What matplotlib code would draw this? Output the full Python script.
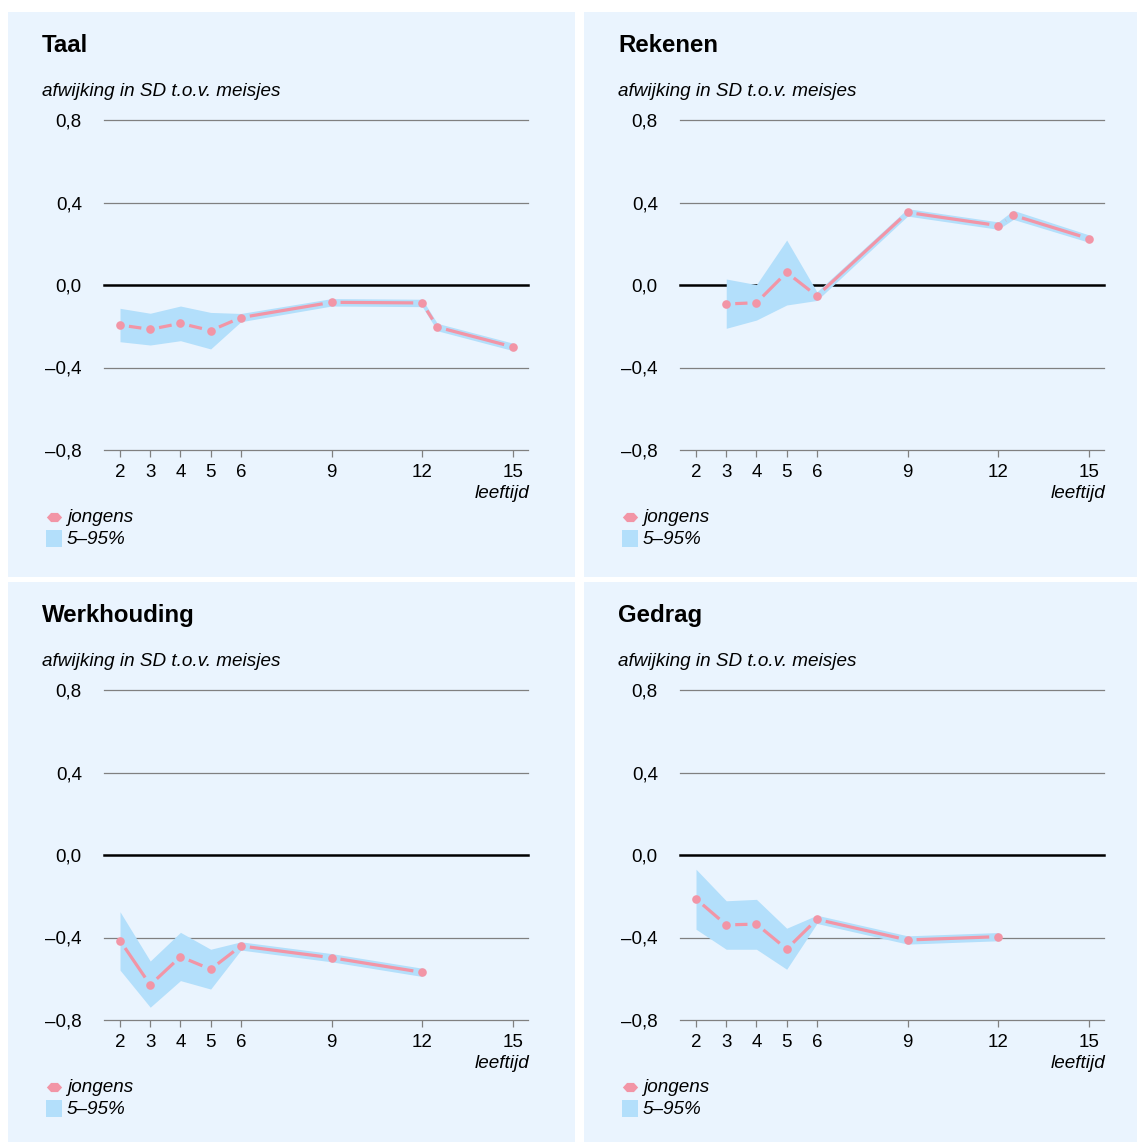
import numpy as np
import matplotlib
matplotlib.use("Agg")
from matplotlib import pyplot as plt
from matplotlib.patches import Rectangle

plt.rcParams['font.family'] = ['Liberation Sans', 'DejaVu Sans']

# leeftijden en waarden (afwijking in SD t.o.v. meisjes)
taal_age = [2, 3, 4, 5, 6, 9, 12, 12.5, 15]
taal_val = [-0.194, -0.215, -0.186, -0.221, -0.158, -0.084, -0.087, -0.204, -0.300]
taal_lo = [-0.275, -0.291, -0.270, -0.310, -0.178, -0.102, -0.105, -0.222, -0.318]
taal_hi = [-0.113, -0.137, -0.102, -0.133, -0.138, -0.066, -0.069, -0.186, -0.282]

rek_age = [3, 4, 5, 6, 9, 12, 12.5, 15]
rek_val = [-0.092, -0.086, 0.061, -0.053, 0.352, 0.288, 0.338, 0.225]
rek_lo = [-0.210, -0.170, -0.097, -0.075, 0.334, 0.270, 0.318, 0.207]
rek_hi = [0.029, 0.002, 0.218, -0.033, 0.370, 0.306, 0.362, 0.243]

werk_age = [2, 3, 4, 5, 6, 9, 12]
werk_val = [-0.415, -0.630, -0.493, -0.554, -0.441, -0.498, -0.569]
werk_lo = [-0.558, -0.738, -0.609, -0.650, -0.461, -0.518, -0.589]
werk_hi = [-0.275, -0.514, -0.375, -0.457, -0.421, -0.478, -0.549]

ged_age = [2, 3, 4, 5, 6, 9, 12]
ged_val = [-0.213, -0.339, -0.335, -0.456, -0.312, -0.412, -0.396]
ged_lo = [-0.360, -0.457, -0.457, -0.554, -0.332, -0.432, -0.416]
ged_hi = [-0.069, -0.222, -0.215, -0.355, -0.292, -0.392, -0.376]

titles = ['Taal', 'Rekenen', 'Werkhouding', 'Gedrag']
x_ticks = [2, 3, 4, 5, 6, 9, 12, 15]
y_ticks = [-0.8, -0.4, 0.0, 0.4, 0.8]

BG = '#EAF4FE'
BAND = '#B3DFFB'
PINK = '#F295A6'
GRID = '#808080'

W, H = 1137, 1142
fig = plt.figure(figsize=(W / 100, H / 100), dpi=100)
fig.patch.set_facecolor('white')

# achtergrond-assen in pixels
bg = fig.add_axes([0, 0, 1, 1], zorder=-1)
bg.set_xlim(0, W)
bg.set_ylim(H, 0)
bg.axis('off')

panels = [
    (0, 0, (8, 12, 567, 565)),
    (576, 0, (584, 12, 553, 565)),
    (0, 570, (8, 582, 567, 560)),
    (576, 570, (584, 582, 553, 560)),
]
series = [
    (taal_age, taal_val, taal_lo, taal_hi),
    (rek_age, rek_val, rek_lo, rek_hi),
    (werk_age, werk_val, werk_lo, werk_hi),
    (ged_age, ged_val, ged_lo, ged_hi),
]

legend_marker = [(-1, 0), (-0.45, 0.6), (0.45, 0.6), (1, 0), (0.45, -0.6), (-0.45, -0.6), (-1, 0)]
GAP = 9
FS = 13.6


def fmt(v):
    return f"{v:.1f}".replace('.', ',').replace('-', '\u2013')


def draw_series(ax, x, y, lo, hi):
    ax.fill_between(x, lo, hi, color=BAND, lw=0, zorder=2)
    pts = ax.transData.transform(np.column_stack([x, y]))
    inv = ax.transData.inverted()
    for p0, p1 in zip(pts[:-1], pts[1:]):
        d = p1 - p0
        u = d / np.hypot(*d)
        seg = inv.transform([p0 + u * GAP, p1 - u * GAP])
        ax.plot(seg[:, 0], seg[:, 1], color=PINK, lw=2.3, solid_capstyle='butt', zorder=3)
    ax.plot(x, y, 'o', color=PINK, ms=6.2, mec='none', zorder=4)


for (ox, oy, rect), title, (x, y, lo, hi) in zip(panels, titles, series):
    bg.add_patch(Rectangle(rect[:2], rect[2], rect[3], color=BG, lw=0))
    bg.text(42 + ox, 52 + oy, title, fontsize=17.3, fontweight='bold', va='baseline', ha='left')
    bg.text(42 + ox, 96 + oy, 'afwijking in SD t.o.v. meisjes', fontsize=FS,
            style='italic', va='baseline', ha='left')
    bg.text(529 + ox, 494 + oy, 'leeftijd', fontsize=FS, style='italic', va='center', ha='right')
    # legenda
    bg.plot(54 + ox, 517 + oy, marker=legend_marker, ms=11, color=PINK, mec='none')
    bg.text(67 + ox, 517 + oy, 'jongens', fontsize=FS, style='italic', va='center', ha='left')
    bg.add_patch(Rectangle((46 + ox, 530 + oy), 16, 17, color=BAND, lw=0))
    bg.text(67 + ox, 539 + oy, '5\u201395%', fontsize=FS, style='italic', va='center', ha='left')

    l, r, t, b = 104 + ox, 528 + ox, 120 + oy, 450 + oy
    ax = fig.add_axes([l / W, 1 - b / H, (r - l) / W, (b - t) / H])
    ax.set_facecolor('none')
    ax.set_xlim(1.47, 15.5)
    ax.set_ylim(-0.8, 0.8)
    for s in ax.spines.values():
        s.set_visible(False)
    for v in y_ticks:
        if v == 0:
            ax.axhline(v, color='black', lw=1.8, zorder=1, clip_on=False)
        else:
            ax.axhline(v, color=GRID, lw=0.9, zorder=1, clip_on=False)
    ax.set_xticks(x_ticks)
    ax.set_xticklabels([str(v) for v in x_ticks], fontsize=13.5)
    ax.set_yticks(y_ticks)
    ax.set_yticklabels([fmt(v) for v in y_ticks], fontsize=13.5)
    ax.tick_params(axis='x', length=5, width=0.9, color=GRID, pad=5)
    ax.tick_params(axis='y', length=0, pad=16)
    draw_series(ax, x, y, lo, hi)

fig.savefig('out.png', dpi=100)
